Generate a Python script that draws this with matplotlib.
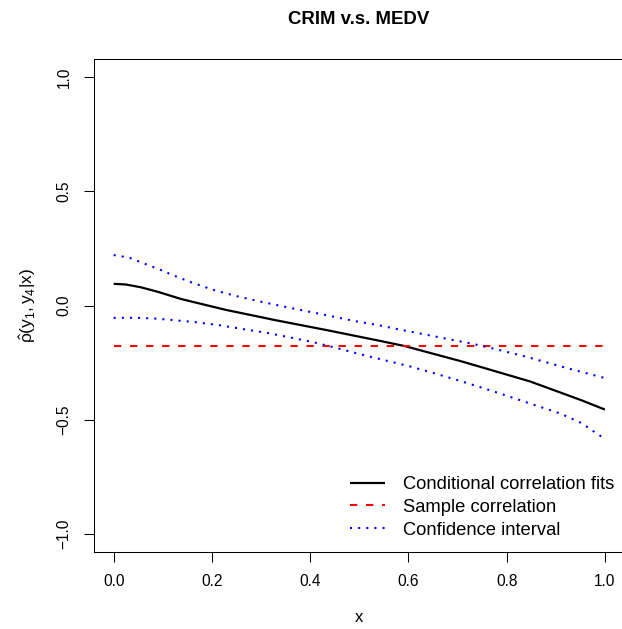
import matplotlib
matplotlib.use("Agg")
import matplotlib.pyplot as plt

plt.rcParams['font.family'] = ['Liberation Sans', 'DejaVu Sans']
plt.rcParams['mathtext.fontset'] = 'custom'
plt.rcParams['mathtext.rm'] = 'Liberation Sans'
plt.rcParams['mathtext.it'] = 'Liberation Sans'
plt.rcParams['mathtext.bf'] = 'Liberation Sans:bold'

# Conditional correlation estimate along x
fit_x = [0.0, 0.025, 0.055, 0.09, 0.138, 0.228, 0.331, 0.434, 0.542, 0.593,
         0.641, 0.705, 0.745, 0.848, 0.952, 1.0]
fit_y = [0.095, 0.092, 0.080, 0.060, 0.028, -0.019, -0.065, -0.108, -0.155, -0.178,
         -0.206, -0.243, -0.268, -0.333, -0.415, -0.456]

# Upper confidence band
upper_x = [0.0, 0.031, 0.062, 0.093, 0.124, 0.155, 0.2, 0.248, 0.297, 0.345, 0.393,
           0.441, 0.49, 0.538, 0.586, 0.634, 0.683, 0.731, 0.779, 0.828, 0.876, 0.924, 1.0]
upper_y = [0.221, 0.210, 0.184, 0.158, 0.130, 0.104, 0.070, 0.042, 0.018, -0.004, -0.025,
           -0.046, -0.068, -0.086, -0.107, -0.127, -0.148, -0.168, -0.192, -0.218, -0.246,
           -0.275, -0.318]

# Lower confidence band
lower_x = [0.0, 0.048, 0.083, 0.117, 0.166, 0.214, 0.262, 0.31, 0.359, 0.407, 0.455,
           0.503, 0.552, 0.6, 0.648, 0.697, 0.745, 0.8, 0.848, 0.91, 0.952, 1.0]
lower_y = [-0.054, -0.054, -0.057, -0.063, -0.073, -0.086, -0.103, -0.119, -0.140, -0.161,
           -0.187, -0.214, -0.240, -0.265, -0.294, -0.325, -0.357, -0.395, -0.430, -0.474,
           -0.515, -0.585]

# Overall sample correlation
sample_corr = -0.178

x_ticks = [0.0, 0.2, 0.4, 0.6, 0.8, 1.0]
y_ticks = [-1.0, -0.5, 0.0, 0.5, 1.0]

W, H = 622, 629
fig = plt.figure(figsize=(W / 100, H / 100), dpi=100)
ax = fig.add_axes([94 / W, (H - 552) / H, (624.6 - 94) / W, (552 - 59) / H])

ax.plot(fit_x, fit_y, color='black', lw=1.6, solid_capstyle='butt',
        label='Conditional correlation fits')
ax.plot([0.0, 1.0], [sample_corr, sample_corr], color='#FF0000', lw=1.5,
        linestyle=(0, (3.5, 4.2)), label='Sample correlation')
ax.plot(upper_x, upper_y, color='#0000FF', lw=1.5, linestyle=(0, (1, 2.9)),
        label='Confidence interval')
ax.plot(lower_x, lower_y, color='#0000FF', lw=1.5, linestyle=(0, (1, 2.9)))

ax.set_xlim(-0.04, 1.04)
ax.set_ylim(-1.08, 1.08)
ax.set_xticks(x_ticks)
ax.set_xticklabels([f'{v:.1f}' for v in x_ticks])
ax.set_yticks(y_ticks)
ax.set_yticklabels([f'{v:.1f}'.replace('-', '\u2212') for v in y_ticks],
                   rotation=90, va='center')
ax.tick_params(direction='out', length=7.2, width=0.75, labelsize=11.2, pad=9)
for s in ax.spines.values():
    s.set_linewidth(0.75)

fig.text(359 / W, 1 - 19 / H, 'CRIM v.s. MEDV', ha='center', va='center',
         fontsize=13.4, fontweight='bold')
fig.text(359 / W, 1 - 618 / H, 'x', ha='center', va='center', fontsize=12)
fig.text(28 / W, 1 - 305 / H, r'$\hat{\rho}(y_1,y_4|x)$', ha='center', va='center',
         rotation=90, fontsize=12.5)

ax.legend(loc='upper left', bbox_to_anchor=(350 / W, 1 - 476 / H),
          bbox_transform=fig.transFigure, frameon=False, fontsize=13.2,
          handlelength=1.9, handletextpad=1.0, labelspacing=0.32, borderpad=0,
          borderaxespad=0)

fig.savefig('out.png', dpi=100)
